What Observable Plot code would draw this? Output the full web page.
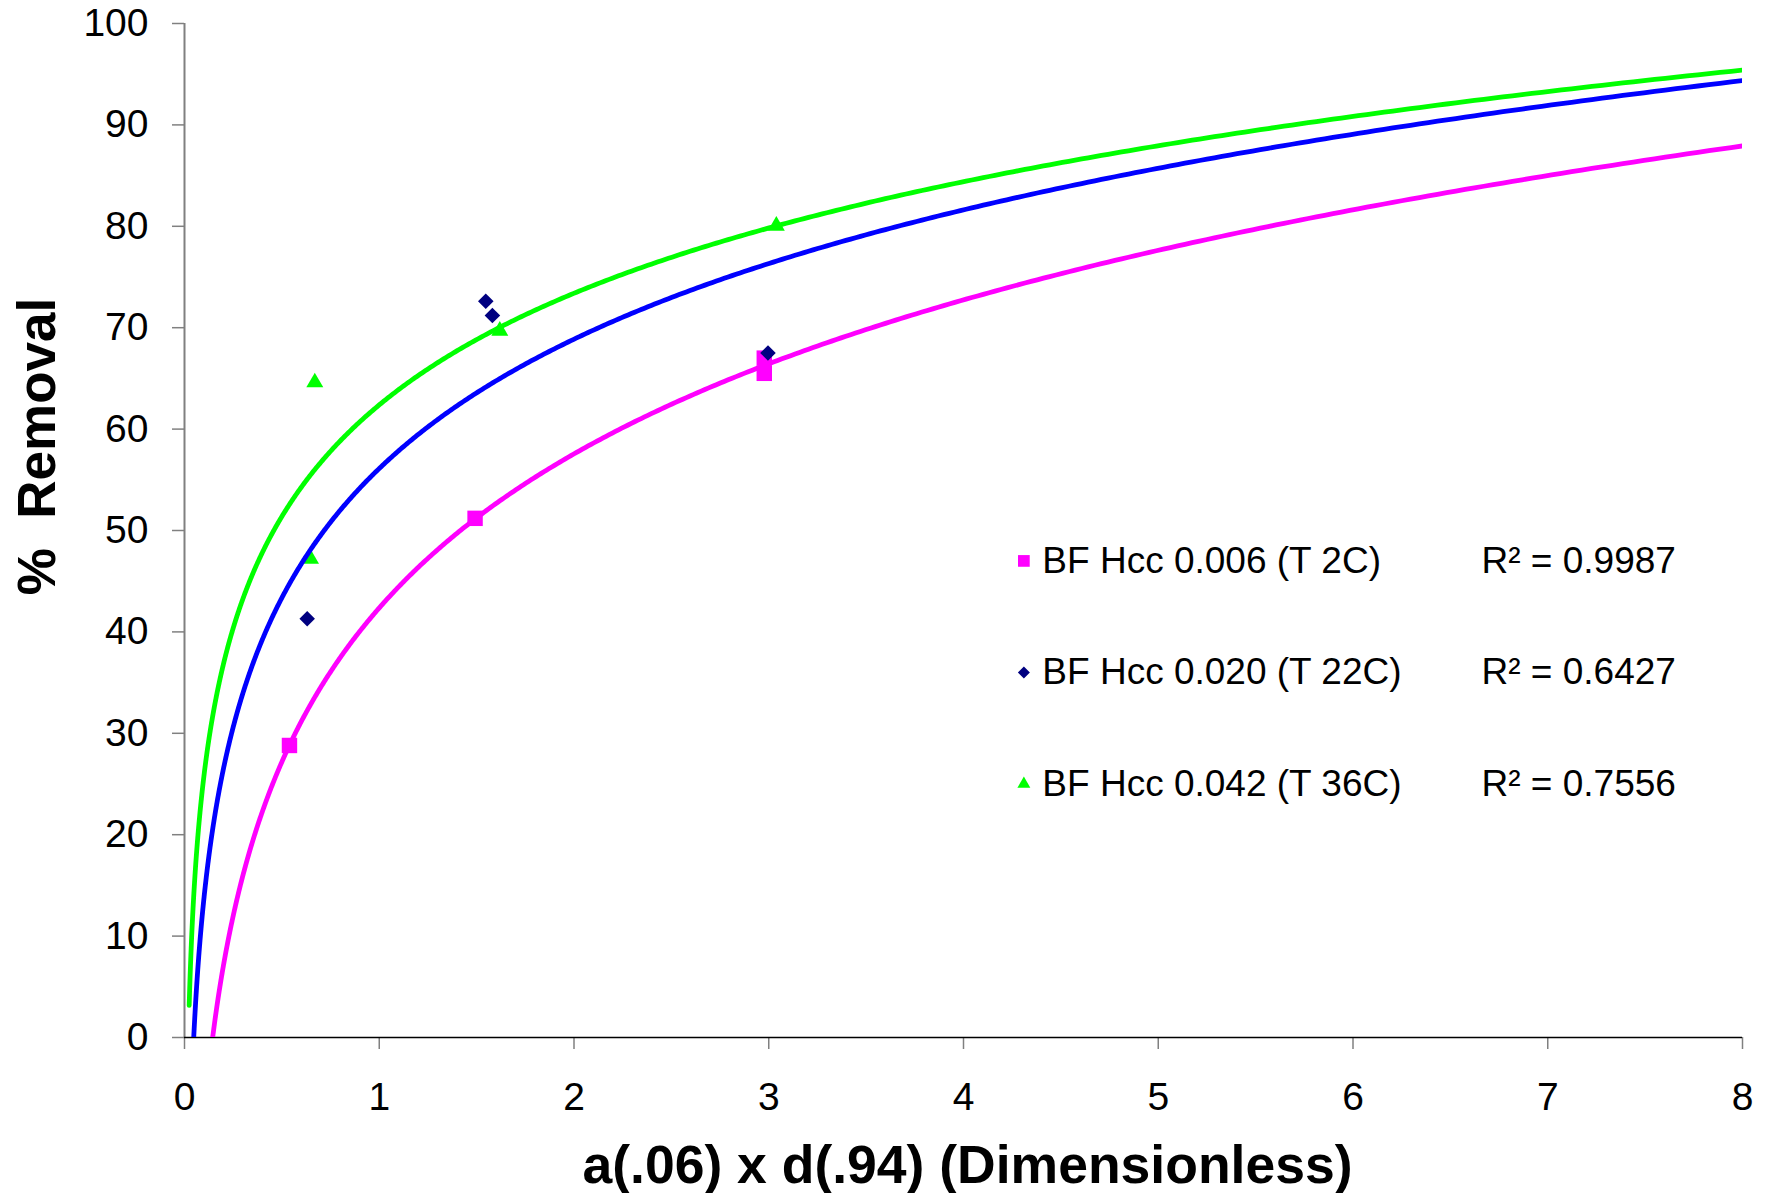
<!DOCTYPE html>
<html>
<head>
<meta charset="utf-8">
<script src="https://cdn.jsdelivr.net/npm/d3@7"></script>
<script src="https://cdn.jsdelivr.net/npm/@observablehq/plot@0.6"></script>
<style>
  html, body { margin: 0; padding: 0; background: #ffffff; }
  #chart { width: 1769px; height: 1193px; }
</style>
</head>
<body>
<div id="chart"></div>
<script>
// ---- data ----
const seriesNames = ["BF Hcc 0.006 (T 2C)", "BF Hcc 0.020 (T 22C)", "BF Hcc 0.042 (T 36C)"];
const rSquaredLabels = ["R² = 0.9987", "R² = 0.6427", "R² = 0.7556"];

const x006 = [0.539, 1.492, 2.977, 2.977];
const y006 = [28.8, 51.2, 67.0, 65.5];

const x020 = [0.630, 1.547, 1.581, 2.996];
const y020 = [41.3, 72.6, 71.2, 67.5];

const x042 = [0.669, 0.647, 1.619, 3.039];
const y042 = [64.6, 47.2, 69.7, 80.05];

const xTicks = [0, 1, 2, 3, 4, 5, 6, 7, 8];
const yTicks = [0, 10, 20, 30, 40, 50, 60, 70, 80, 90, 100];

const xTitle = "a(.06) x d(.94) (Dimensionless)";
const yTitle = "%\u00a0 Removal";

// ---- logarithmic trendlines (least squares on ln x, as the spreadsheet does) ----
function logFit(xs, ys) {
  const lx = xs.map(Math.log);
  const mx = d3.mean(lx), my = d3.mean(ys);
  let sxy = 0, sxx = 0;
  lx.forEach((v, i) => { sxy += (v - mx) * (ys[i] - my); sxx += (v - mx) * (v - mx); });
  const a = sxy / sxx;
  return { a, b: my - a * mx };
}
const curveStart = 0.024, curveEnd = 8, curveSteps = 800;
const curveX = d3.range(curveSteps + 1).map(i => curveStart * Math.pow(curveEnd / curveStart, i / curveSteps));
function trend(xs, ys) {
  const { a, b } = logFit(xs, ys);
  return curveX.map(x => ({ x, y: a * Math.log(x) + b }));
}

// ---- legend placement (in data units of the chart frame) ----
const legendMarkerX = 4.31, legendTextX = 4.405, legendR2X = 6.66;
const legendRowY = [47, 36, 25];

const font = "'Liberation Sans', Arial, Helvetica, sans-serif";

const chart = Plot.plot({
  width: 1769,
  height: 1193,
  marginTop: 23,
  marginBottom: 156,
  marginLeft: 184,
  marginRight: 27,
  style: { fontFamily: font, background: "#ffffff", color: "#000000" },
  x: { domain: [0, 8] },
  y: { domain: [0, 100] },
  marks: [
    Plot.axisY({ ticks: yTicks, tickSize: 12, tickPadding: 24, fontSize: 39, stroke: "#808080", strokeWidth: 1.5, fill: "#000000", label: null }),
    Plot.axisX({ ticks: xTicks, tickSize: 12, tickPadding: 33, fontSize: 39, stroke: "#808080", strokeWidth: 1.5, fill: "#000000", label: null }),
    Plot.ruleX([0], { stroke: "#808080", strokeWidth: 2 }),
    Plot.ruleY([0], { stroke: "#000000", strokeWidth: 1.6 }),

    // data markers
    Plot.dot(x006, { x: x006, y: y006, symbol: "square", r: 8.7, fill: "#FF00FF", stroke: null }),
    Plot.dot(x020, { x: x020, y: y020, symbol: "square", rotate: 45, r: 6.2, fill: "#000080", stroke: null }),
    Plot.dot(x042, { x: x042, y: y042, symbol: "triangle", r: 6.3, fill: "#00FF00", stroke: null }),

    // trendlines
    Plot.line(trend(x006, y006), { x: "x", y: "y", stroke: "#FF00FF", strokeWidth: 4.8, strokeLinecap: "round", clip: true }),
    Plot.line(trend(x020, y020), { x: "x", y: "y", stroke: "#0000FF", strokeWidth: 4.8, strokeLinecap: "round", clip: true }),
    Plot.line(trend(x042, y042), { x: "x", y: "y", stroke: "#00FF00", strokeWidth: 4.8, strokeLinecap: "round", clip: true }),

    // legend
    Plot.dot([0], { x: legendMarkerX, y: legendRowY[0], symbol: "square", r: 6.6, fill: "#FF00FF", stroke: null }),
    Plot.dot([0], { x: legendMarkerX, y: legendRowY[1], symbol: "square", rotate: 45, r: 4.8, fill: "#000080", stroke: null }),
    Plot.dot([0], { x: legendMarkerX, y: legendRowY[2], symbol: "triangle", r: 4.8, fill: "#00FF00", stroke: null }),
    Plot.text(seriesNames, { x: legendTextX, y: legendRowY, text: d => d, textAnchor: "start", fontSize: 37, fill: "#000000" }),
    Plot.text(rSquaredLabels, { x: legendR2X, y: legendRowY, text: d => d, textAnchor: "start", fontSize: 37, fill: "#000000" }),

    // axis titles
    Plot.text([xTitle], { frameAnchor: "bottom", text: d => d, textAnchor: "middle", lineAnchor: "bottom", dy: 145, dx: 4, fontSize: 53.5, fontWeight: "bold", fill: "#000000" }),
    Plot.text([yTitle], { frameAnchor: "left", text: d => d, textAnchor: "middle", lineAnchor: "middle", rotate: -90, dx: -146, dy: -84, fontSize: 53, fontWeight: "bold", fill: "#000000" })
  ]
});

document.getElementById("chart").appendChild(chart);
</script>
</body>
</html>
